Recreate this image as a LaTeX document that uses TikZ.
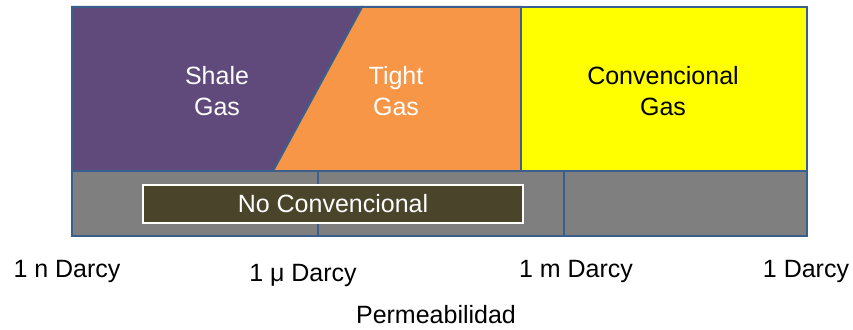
\documentclass[tikz,border=0pt]{standalone}
\usepackage{fontspec}
\setmainfont{Liberation Sans}
\usepackage{xcolor}
\definecolor{shale}{HTML}{604A7B}
\definecolor{tight}{HTML}{F79646}
\definecolor{conv}{HTML}{FFFF00}
\definecolor{rock}{HTML}{7F7F7F}
\definecolor{edge}{HTML}{3A5F8C}
\definecolor{olive}{HTML}{4A442A}
\tikzset{
  zone/.style={draw=edge, line width=2pt, line join=miter},
  lab/.style={font=\fontsize{25}{31}\selectfont, align=center, inner sep=0pt},
  axis/.style={font=\fontsize{25}{31}\selectfont, anchor=base, inner sep=0pt},
}
\begin{document}
\begin{tikzpicture}[x=1pt, y=-1pt]
  \useasboundingbox (0,0) rectangle (853,329);
  \coordinate (TL) at (72,7);
  \coordinate (TS) at (362,7);
  \coordinate (TT) at (521,7);
  \coordinate (TR) at (807,7);
  \coordinate (ML) at (72,171);
  \coordinate (MS) at (273,171);
  \coordinate (MT) at (521,171);
  \coordinate (MR) at (807,171);

  % gas types
  \filldraw[zone, fill=shale] (TL)--(TS)--(MS)--(ML)--cycle;
  \filldraw[zone, fill=tight] (TS)--(TT)--(MT)--(MS)--cycle;
  \filldraw[zone, fill=conv] (TT)--(TR)--(MR)--(MT)--cycle;

  % lower band
  \filldraw[zone, fill=rock] (72,171) rectangle (318,236);
  \filldraw[zone, fill=rock] (318,171) rectangle (564,236);
  \filldraw[zone, fill=rock] (564,171) rectangle (807,236);
  \filldraw[draw=white, line width=2pt, fill=olive] (143,185) rectangle (523,223);

  \node[lab, text=white] (shalegas) at (217,91) {Shale\\Gas};
  \node[lab, text=white] (tightgas) at (396,91) {Tight\\Gas};
  \node[lab, text=black] (convgas) at (663,91) {Convencional\\Gas};
  \node[lab, text=white] (noconv) at (333,204) {No Convencional};

  % permeability scale
  \node[axis] (nano) at (67,277) {1 n Darcy};
  \node[axis] (micro) at (303,281) {1 μ Darcy};
  \node[axis] (milli) at (576,277) {1 m Darcy};
  \node[axis] (darcy) at (806,277) {1 Darcy};
  \node[axis] (perm) at (436,323) {Permeabilidad};
\end{tikzpicture}
\end{document}
